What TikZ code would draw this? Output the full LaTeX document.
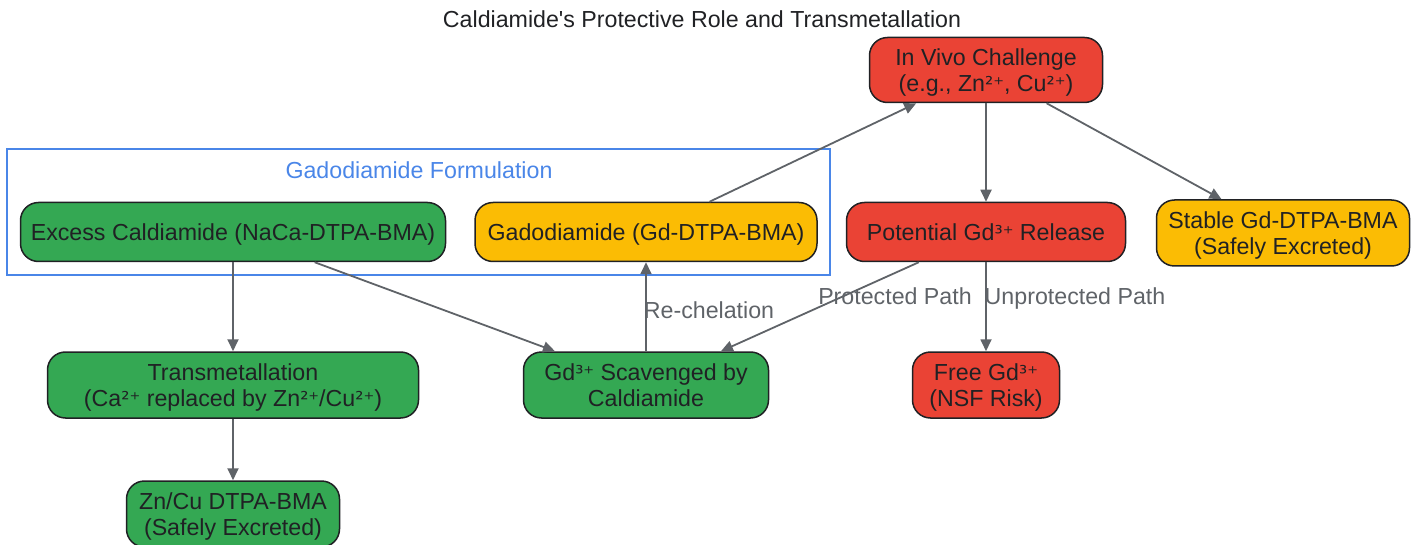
\documentclass[tikz,border=0pt]{standalone}
\usepackage{fontspec}
\setmainfont{Liberation Sans}
\newfontfamily\supfont{DejaVu Sans}[Scale=0.88]
\newcommand{\ionch}[1]{{\supfont #1}}
\usetikzlibrary{shapes.geometric,arrows.meta}
\definecolor{boxred}{HTML}{EA4335}
\definecolor{boxyellow}{HTML}{FBBC04}
\definecolor{boxgreen}{HTML}{34A853}
\definecolor{edgegray}{HTML}{5F6368}
\definecolor{clusterblue}{HTML}{4A86E8}
\definecolor{inkdark}{HTML}{202124}
\tikzstyle{box} = [rectangle, rounded corners=9pt, draw=inkdark, line width=0.75pt,
text=inkdark, align=center, inner sep=0pt, text depth=-1pt, font=\fontsize{11.6}{12.8}\selectfont]
\tikzstyle{redbox} = [box, fill=boxred]
\tikzstyle{yellowbox} = [box, fill=boxyellow]
\tikzstyle{greenbox} = [box, fill=boxgreen]
\tikzstyle{elabel} = [text=edgegray, inner sep=0pt, text height=8.4pt, text depth=0pt, font=\fontsize{11.6}{12.8}\selectfont]
\tikzstyle{arrow} = [draw=edgegray, line width=0.9pt, -{Triangle[length=6pt,width=5.5pt]}]

\begin{document}
\begin{tikzpicture}[x=0.5pt, y=-0.5pt]
    \useasboundingbox (0,0) rectangle (1418,545);
    % title
    \node (title) [elabel, text=inkdark] at (702,19) {Caldiamide\textquotesingle s Protective Role and Transmetallation};
    % formulation cluster
    \draw [clusterblue, line width=0.75pt] (7,149) rectangle (830,275);
    \node (formlbl) [elabel, text=clusterblue] at (419,170) {Gadodiamide Formulation};
    \node (excess) [greenbox, minimum width=212.5pt, minimum height=29.5pt] at (233,232) {Excess Caldiamide (NaCa-DTPA-BMA)};
    \node (gado) [yellowbox, minimum width=171pt, minimum height=29.5pt] at (646,232) {Gadodiamide (Gd-DTPA-BMA)};
    % challenge side
    \node (vivo) [redbox, minimum width=116.5pt, minimum height=32.5pt] at (986,70) {In Vivo Challenge\\(e.g., Zn\ionch{²⁺}, Cu\ionch{²⁺})};
    \node (release) [redbox, minimum width=139.5pt, minimum height=29.5pt] at (986,232) {Potential Gd\ionch{³⁺} Release};
    \node (stable) [yellowbox, minimum width=126.5pt, minimum height=33pt] at (1283,233) {Stable Gd-DTPA-BMA\\(Safely Excreted)};
    \node (free) [redbox, minimum width=73.5pt, minimum height=33pt] at (986,385) {Free Gd\ionch{³⁺}\\(NSF Risk)};
    % caldiamide side
    \node (trans) [greenbox, minimum width=185.5pt, minimum height=33pt] at (233,385) {Transmetallation\\(Ca\ionch{²⁺} replaced by Zn\ionch{²⁺}/Cu\ionch{²⁺})};
    \node (scav) [greenbox, minimum width=122.5pt, minimum height=33pt] at (646,385) {Gd\ionch{³⁺} Scavenged by\\Caldiamide};
    \node (zncu) [greenbox, minimum width=106.5pt, minimum height=33pt] at (233,514) {Zn/Cu DTPA-BMA\\(Safely Excreted)};
    % edge labels
    \node (lblrech) [elabel] at (709,310) {Re-chelation};
    \node (lblprot) [elabel] at (895,296) {Protected Path};
    \node (lblunprot) [elabel] at (1075,296) {Unprotected Path};
    % edges
    \draw [arrow] (gado) -- (vivo);
    \draw [arrow] (vivo) -- (release);
    \draw [arrow] (vivo) -- (stable);
    \draw [arrow] (release) -- (scav);
    \draw [arrow] (release) -- (free);
    \draw [arrow] (excess) -- (trans);
    \draw [arrow] (excess) -- (scav);
    \draw [arrow] (trans) -- (zncu);
    \draw [arrow] (scav) -- (gado);
\end{tikzpicture}
\end{document}
